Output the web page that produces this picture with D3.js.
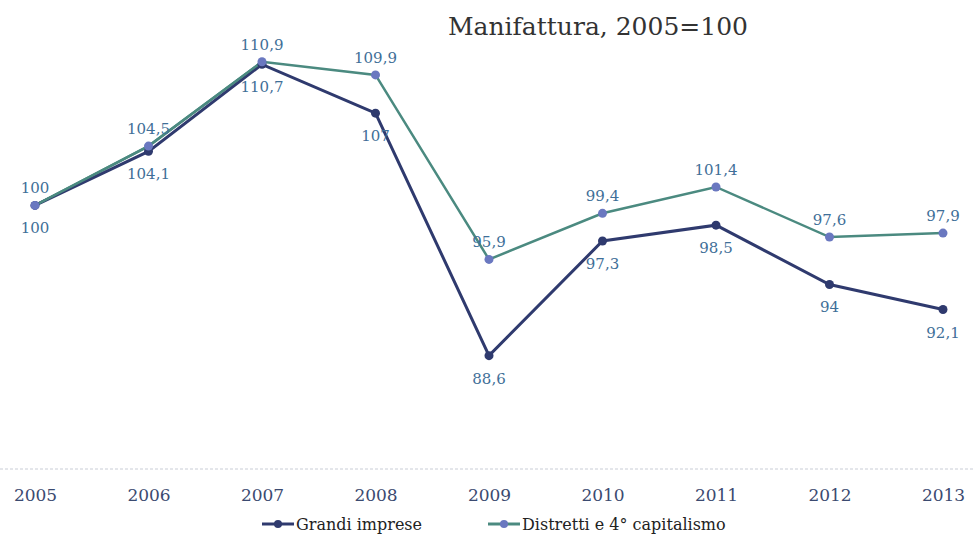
<!DOCTYPE html>
<html>
<head>
<meta charset="utf-8">
<script src="https://cdn.jsdelivr.net/npm/d3@7"></script>
<style>
  body { margin: 0; background: #fff; }
  text { font-family: "DejaVu Serif", "Liberation Serif", serif; }
</style>
</head>
<body>
<div id="chart"></div>
<script>
// data
const years = ["2005", "2006", "2007", "2008", "2009", "2010", "2011", "2012", "2013"];
const grandi = [100, 104.1, 110.7, 107, 88.6, 97.3, 98.5, 94, 92.1];
const distretti = [100, 104.5, 110.9, 109.9, 95.9, 99.4, 101.4, 97.6, 97.9];
const seriesNames = ["Grandi imprese", "Distretti e 4° capitalismo"];

const width = 973, height = 538;

const svg = d3.select("#chart")
  .append("svg")
  .attr("width", width)
  .attr("height", height);

const x = d3.scalePoint()
  .domain(years)
  .range([35, 943]);

const y = d3.scaleLinear()
  .domain([80, 115])
  .range([469, 7.7]);

// faint baseline
svg.append("line")
  .attr("x1", 0).attr("x2", width)
  .attr("y1", y(80)).attr("y2", y(80))
  .attr("stroke", "#c9cdd6")
  .attr("stroke-width", 1)
  .attr("stroke-dasharray", "3,2");

// x axis labels
const xAxis = svg.append("g")
  .attr("transform", `translate(0,${y(80)})`)
  .call(d3.axisBottom(x).tickSize(0).tickPadding(20));
xAxis.select(".domain").remove();
xAxis.selectAll("text")
  .attr("fill", "#3b4a70")
  .style("font-size", "17px")
  .style("font-family", "'DejaVu Serif', serif");

// title
svg.append("text")
  .attr("x", 598)
  .attr("y", 35)
  .attr("text-anchor", "middle")
  .attr("fill", "#333")
  .style("font-size", "25px")
  .text("Manifattura, 2005=100");

const line = d3.line()
  .x((d, i) => x(years[i]))
  .y(d => y(d));

// distretti line (green) drawn first
svg.append("path")
  .datum(distretti)
  .attr("fill", "none")
  .attr("stroke", "#4b8a80")
  .attr("stroke-width", 2.5)
  .attr("d", line);

svg.append("path")
  .datum(grandi)
  .attr("fill", "none")
  .attr("stroke", "#2f3a6e")
  .attr("stroke-width", 3)
  .attr("d", line);

svg.append("path")
  .datum(distretti.slice(0, 3))
  .attr("fill", "none")
  .attr("stroke", "#4b8a80")
  .attr("stroke-width", 2.5)
  .attr("d", line);

svg.selectAll(".dot-g")
  .data(grandi)
  .join("circle")
  .attr("cx", (d, i) => x(years[i]))
  .attr("cy", d => y(d))
  .attr("r", 4.5)
  .attr("fill", "#2f3a6e");

svg.selectAll(".dot-d")
  .data(distretti)
  .join("circle")
  .attr("cx", (d, i) => x(years[i]))
  .attr("cy", d => y(d))
  .attr("r", 4.5)
  .attr("fill", "#6a78c0");

const fmt = v => String(v).replace(".", ",");

// labels: distretti above, grandi below
svg.selectAll(".lab-d")
  .data(distretti)
  .join("text")
  .attr("x", (d, i) => x(years[i]))
  .attr("y", d => y(d) - 12)
  .attr("text-anchor", "middle")
  .attr("fill", "#3f6f98")
  .style("font-size", "15px")
  .text(d => fmt(d));

svg.selectAll(".lab-g")
  .data(grandi)
  .join("text")
  .attr("x", (d, i) => x(years[i]))
  .attr("y", d => y(d) + 28)
  .attr("text-anchor", "middle")
  .attr("fill", "#3f6f98")
  .style("font-size", "15px")
  .text(d => fmt(d));

// legend
const legend = svg.append("g").attr("transform", "translate(0,524)");
const legItems = [
  { name: seriesNames[0], x: 262, line: "#2f3a6e", dot: "#2f3a6e" },
  { name: seriesNames[1], x: 488, line: "#4b8a80", dot: "#6a78c0" }
];
legItems.forEach(it => {
  legend.append("line")
    .attr("x1", it.x).attr("x2", it.x + 32)
    .attr("y1", 0).attr("y2", 0)
    .attr("stroke", it.line)
    .attr("stroke-width", 3);
  legend.append("circle")
    .attr("cx", it.x + 16).attr("cy", 0)
    .attr("r", 4)
    .attr("fill", it.dot);
  legend.append("text")
    .attr("x", it.x + 34)
    .attr("y", 6)
    .attr("fill", "#222")
    .style("font-size", "16px")
    .text(it.name);
});
</script>
</body>
</html>
